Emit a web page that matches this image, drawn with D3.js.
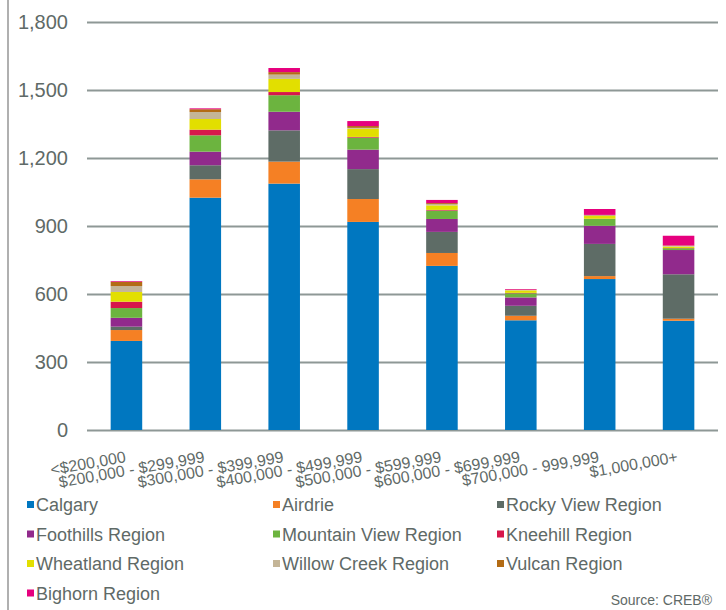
<!DOCTYPE html>
<html lang="en">
<head>
    <meta charset="UTF-8">
    <title>Sales by Price Range and Region</title>
    <script src="https://d3js.org/d3.v7.min.js"></script>
    <style>
        body {
            margin: 0;
            padding: 0;
            background-color: #fff;
            font-family: "Liberation Sans", Arial, sans-serif;
        }
        #chart-container svg {
            display: block;
        }
    </style>
</head>
<body>
    <div id="chart-container"></div>
    <script>
        const categories = ["<$200,000", "$200,000 - $299,999", "$300,000 - $399,999", "$400,000 - $499,999",
            "$500,000 - $599,999", "$600,000 - $699,999", "$700,000 - 999,999", "$1,000,000+"];

        const seriesNames = ["Calgary", "Airdrie", "Rocky View Region", "Foothills Region", "Mountain View Region",
            "Kneehill Region", "Wheatland Region", "Willow Creek Region", "Vulcan Region", "Bighorn Region"];

        const calgary = [393, 1025, 1087, 918, 724, 484, 666, 482];
        const airdrie = [48, 81, 97, 101, 57, 20, 13, 9];
        const rockyView = [15, 62, 138, 132, 93, 44, 142, 196];
        const foothills = [39, 60, 82, 86, 57, 37, 80, 107];
        const mountainView = [43, 72, 73, 53, 37, 18, 30, 8];
        const kneehill = [28, 25, 14, 3, 3, 2, 1, 1];
        const wheatland = [43, 47, 58, 36, 20, 11, 12, 6];
        const willowCreek = [26, 31, 19, 4, 6, 2, 3, 3];
        const vulcan = [19, 12, 11, 8, 4, 1, 2, 2];
        const bighorn = [3, 4, 18, 22, 14, 3, 26, 43];

        const yTicks = [0, 300, 600, 900, 1200, 1500, 1800];

        const colors = ["#0077c0", "#f58024", "#5e6c66", "#912a8c", "#6cb43f",
            "#d7174b", "#e2df00", "#c4b597", "#b36b14", "#e6007e"];

        const allSeries = [calgary, airdrie, rockyView, foothills, mountainView,
            kneehill, wheatland, willowCreek, vulcan, bighorn];

        const width = 726;
        const height = 610;
        const textColor = "#5f6a67";

        // rows for the stack: one object per price range
        const rows = categories.map((c, i) => {
            const row = { category: c };
            seriesNames.forEach((s, j) => { row[s] = allSeries[j][i]; });
            return row;
        });

        const svg = d3.select("#chart-container")
            .append("svg")
            .attr("width", width)
            .attr("height", height);

        // left border of the chart area
        svg.append("line")
            .attr("x1", 8).attr("x2", 8)
            .attr("y1", 0).attr("y2", height)
            .attr("stroke", "#b0b0b0")
            .attr("stroke-width", 2);

        const x = d3.scaleBand()
            .domain(categories)
            .range([87, 718])
            .paddingInner(0.6)
            .paddingOuter(0.3);

        const y = d3.scaleLinear()
            .domain([0, 1800])
            .range([430, 22]);

        // gridlines + y labels
        const yAxis = svg.append("g")
            .attr("transform", "translate(87,0)")
            .call(d3.axisLeft(y)
                .tickValues(yTicks)
                .tickSize(-631)
                .tickPadding(19)
                .tickFormat(d3.format(",")));

        yAxis.select(".domain").remove();
        yAxis.selectAll(".tick line")
            .attr("stroke", "#8e9896")
            .attr("stroke-width", 2);
        yAxis.selectAll(".tick text")
            .attr("fill", textColor)
            .style("font-family", "'Liberation Sans', Arial, sans-serif")
            .style("font-size", "20px");

        const stack = d3.stack().keys(seriesNames);
        const stacked = stack(rows);

        svg.append("g")
            .selectAll("g")
            .data(stacked)
            .join("g")
            .attr("fill", (d, i) => colors[i])
            .selectAll("rect")
            .data(d => d)
            .join("rect")
            .attr("x", d => x(d.data.category))
            .attr("y", d => y(d[1]))
            .attr("height", d => y(d[0]) - y(d[1]))
            .attr("width", x.bandwidth());

        // rotated category labels
        svg.append("g")
            .selectAll("text")
            .data(categories)
            .join("text")
            .attr("transform", d => `translate(${x(d) + x.bandwidth() / 2},462) rotate(-10)`)
            .attr("text-anchor", "end")
            .attr("fill", textColor)
            .style("font-size", "16px")
            .text(d => d);

        // legend, three columns
        const legendCols = [27, 273, 497];
        const legend = svg.append("g")
            .selectAll("g")
            .data(seriesNames)
            .join("g")
            .attr("transform", (d, i) => `translate(${legendCols[i % 3]},${505 + Math.floor(i / 3) * 29.5})`);

        legend.append("rect")
            .attr("x", 0)
            .attr("y", -4)
            .attr("width", 7)
            .attr("height", 7)
            .attr("fill", (d, i) => colors[i]);

        legend.append("text")
            .attr("x", 9)
            .attr("y", 6)
            .attr("fill", textColor)
            .style("font-size", "18px")
            .text(d => d);

        svg.append("text")
            .attr("x", 712)
            .attr("y", 605)
            .attr("text-anchor", "end")
            .attr("fill", textColor)
            .style("font-size", "14px")
            .text("Source: CREB®");
    </script>
</body>
</html>
